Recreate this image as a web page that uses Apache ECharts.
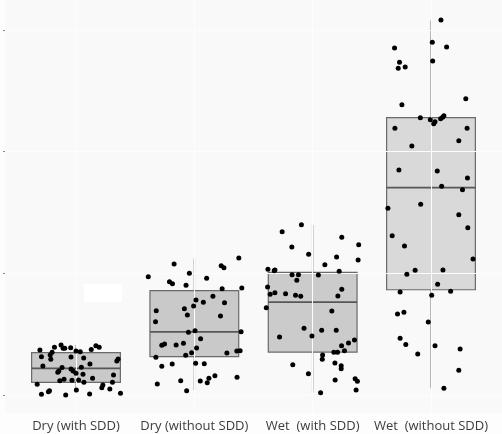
<!DOCTYPE html>
<html>
<head>
<meta charset="utf-8">
<script src="https://cdn.jsdelivr.net/npm/echarts@6/dist/echarts.min.js"></script>
<style>
html,body{margin:0;padding:0;background:#fdfdfd;}
#c{width:502px;height:434px;}
</style>
</head>
<body>
<div id="c"></div>
<script>
const categories = ['Dry (with SDD)', 'Dry (without SDD)', 'Wet  (with SDD)', 'Wet  (without SDD)'];
const yTicks = [0, 1, 2, 3];
// [min, Q1, median, Q3, max]
const boxStats = [
  [0.016, 0.104, 0.219, 0.348, 0.411],
  [0.041, 0.315, 0.518, 0.857, 1.124],
  [0.019, 0.353, 0.764, 1.008, 1.397],
  [0.055, 0.865, 1.704, 2.279, 3.079]
];
const pointsDryWith = [
  [0.695,0.370],[0.818,0.392],[0.874,0.411],[0.891,0.384],[0.905,0.384],[0.955,0.389],[1.000,0.362],[1.036,0.356],
  [1.129,0.373],[1.168,0.405],[1.196,0.392],[0.708,0.315],[0.782,0.329],[0.798,0.351],[0.787,0.293],[0.958,0.312],
  [1.065,0.304],[1.118,0.255],[1.345,0.279],[1.356,0.296],[0.720,0.238],[0.882,0.225],[0.846,0.187],[0.855,0.197],
  [0.958,0.214],[0.975,0.197],[1.045,0.228],[1.000,0.178],[0.863,0.118],[0.899,0.129],[0.966,0.121],[1.022,0.123],
  [1.059,0.170],[1.067,0.104],[1.140,0.137],[1.317,0.164],[1.308,0.104],[0.672,0.088],[1.227,0.082],[1.218,0.060],
  [1.286,0.049],[1.003,0.041],[0.708,0.006],[0.767,0.027],[0.776,0.035],[0.913,0.000],[1.115,0.008],[1.376,0.014]
];
const pointsDryWithout = [
  [1.829,1.077],[2.376,1.126],[2.227,1.063],[2.250,1.046],[1.611,0.972],[1.958,1.000],[2.104,0.959],[1.790,0.931],
  [1.815,0.915],[1.930,0.902],[2.235,0.874],[2.401,0.879],[2.014,0.781],[2.076,0.762],[2.157,0.811],[2.255,0.759],
  [1.994,0.731],[1.916,0.709],[1.678,0.693],[1.941,0.658],[2.221,0.649],[1.672,0.603],[1.950,0.515],[2.006,0.529],
  [2.395,0.520],[2.053,0.463],[1.725,0.408],[1.748,0.419],[1.846,0.411],[1.908,0.425],[2.019,0.386],[1.977,0.348],
  [1.927,0.326],[2.275,0.345],[2.359,0.362],[2.387,0.364],[1.675,0.310],[1.725,0.236],[1.813,0.255],[2.011,0.260],
  [2.084,0.257],[2.174,0.159],[2.123,0.137],[2.050,0.115],[2.109,0.101],[1.885,0.118],[1.687,0.090],[1.935,0.035],
  [2.361,0.145]
];
const pointsWetWith = [
  [2.905,1.400],[2.742,1.342],[3.246,1.296],[3.389,1.235],[2.824,1.216],[2.966,1.156],[3.202,1.134],[3.384,1.110],
  [3.103,1.071],[2.622,1.033],[2.675,1.022],[2.681,1.027],[3.224,1.017],[2.826,0.989],[2.880,0.989],[3.048,0.986],
  [2.866,0.943],[2.619,0.888],[3.246,0.869],[2.641,0.828],[2.681,0.841],[2.771,0.833],[2.855,0.819],[2.899,0.811],
  [3.213,0.814],[2.608,0.718],[3.162,0.690],[2.927,0.548],[3.076,0.532],[3.199,0.532],[2.720,0.477],[2.994,0.485],
  [3.353,0.452],[3.303,0.427],[3.244,0.405],[3.269,0.364],[3.179,0.351],[3.210,0.351],[3.084,0.329],[3.081,0.293],
  [3.188,0.263],[3.241,0.241],[3.241,0.216],[2.832,0.249],[2.964,0.175],[3.190,0.123],[3.359,0.134],[3.378,0.113],
  [3.367,0.041],[3.067,0.019]
];
const pointsWetWithout = [
  [4.084,3.082],[4.011,2.899],[4.132,2.860],[3.692,2.852],[4.014,2.745],[3.734,2.734],[3.723,2.685],[3.782,2.696],
  [4.294,2.435],[3.754,2.386],[3.910,2.279],[3.994,2.263],[4.034,2.246],[4.023,2.230],[4.081,2.271],[4.098,2.282],
  [4.109,2.296],[3.695,2.192],[4.305,2.192],[4.235,2.090],[3.838,2.047],[3.729,1.849],[4.053,1.841],[4.308,1.784],
  [4.090,1.715],[4.266,1.687],
  [3.913,1.567],[3.636,1.534],[4.235,1.482],[4.311,1.375],[3.672,1.309],[3.776,1.225],[4.355,1.118],[3.866,1.025],
  [4.101,1.027],[3.796,0.992],[4.056,0.910],[3.739,0.847],[4.166,0.852],[4.006,0.819],[3.717,0.666],[3.771,0.680],
  [3.977,0.600],[3.739,0.466],[3.787,0.414],[4.034,0.405],[4.246,0.378],[3.888,0.337],[4.235,0.203],[4.109,0.055]
];

const boxFills = ['#c9c9c9', '#c9c9c9', '#cbcbcb', '#d9d9d9'];
const catPos = categories.map((c, i) => i + 1);

const chart = echarts.init(document.getElementById('c'), null, {renderer: 'canvas'});

const scatter = (data) => ({
  type: 'scatter', data, symbolSize: 5, itemStyle: {color: '#000000', opacity: 1}, z: 5, silent: true
});

chart.setOption({
  animation: false,
  backgroundColor: '#fdfdfd',
  grid: {left: 5, right: 0, top: 0, bottom: 21, show: true, backgroundColor: '#f9f9f9', borderWidth: 0},
  xAxis: {
    type: 'value', min: 0.4, max: 4.6,
    axisLine: {show: false},
    splitLine: {show: false},
    axisTick: {show: true, customValues: catPos, length: 2, lineStyle: {color: '#bbbbbb'}},
    axisLabel: {
      show: true, customValues: catPos, margin: 7,
      formatter: (v) => categories[Math.round(v) - 1] || '',
      color: '#3c3c3c', fontSize: 13, fontFamily: 'Open Sans'
    }
  },
  yAxis: {
    type: 'value', min: -0.148, max: 3.2465,
    axisLine: {show: false},
    splitLine: {show: false},
    axisTick: {show: true, customValues: yTicks, length: 2, lineStyle: {color: '#888888'}},
    axisLabel: {show: false}
  },
  graphic: [{type: 'rect', shape: {x: 84, y: 284, width: 38, height: 18}, style: {fill: '#ffffff'}, z: 0, silent: true}],
  series: [
    {
      type: 'scatter', data: [], z: 1, silent: true,
      markLine: {
        silent: true, symbol: 'none', label: {show: false},
        lineStyle: {color: '#fdfdfd', width: 1, type: 'solid'},
        data: catPos.map(v => ({xAxis: v})).concat(yTicks.map(v => ({yAxis: v})))
      }
    },
    {
      type: 'custom',
      z: 3,
      silent: true,
      data: boxStats.map((s, i) => [catPos[i]].concat(s)),
      encode: {x: 0, y: [1, 2, 3, 4, 5]},
      renderItem: function (params, api) {
        const x = api.value(0);
        const pMin = api.coord([x, api.value(1)]);
        const pQ1 = api.coord([x, api.value(2)]);
        const pMed = api.coord([x, api.value(3)]);
        const pQ3 = api.coord([x, api.value(4)]);
        const pMax = api.coord([x, api.value(5)]);
        const halfW = api.size([0.75, 0])[0] / 2;
        const fill = boxFills[params.dataIndex];
        return {
          type: 'group',
          children: [
            {type: 'line', shape: {x1: pMax[0], y1: pMax[1], x2: pQ3[0], y2: pQ3[1]}, style: {stroke: '#a0a0a0', lineWidth: 1.5}},
            {type: 'line', shape: {x1: pMin[0], y1: pMin[1], x2: pQ1[0], y2: pQ1[1]}, style: {stroke: '#a0a0a0', lineWidth: 1.5}},
            {type: 'rect', shape: {x: pQ3[0] - halfW, y: pQ3[1], width: 2 * halfW, height: pQ1[1] - pQ3[1]}, style: {fill: fill, stroke: '#6a6a6a', lineWidth: 1.2}},
            {type: 'line', shape: {x1: pMed[0] - halfW, y1: pMed[1], x2: pMed[0] + halfW, y2: pMed[1]}, style: {stroke: '#575757', lineWidth: 1.8}}
          ]
        };
      }
    },
    scatter(pointsDryWith),
    scatter(pointsDryWithout),
    scatter(pointsWetWith),
    scatter(pointsWetWithout)
  ]
});
</script>
</body>
</html>
